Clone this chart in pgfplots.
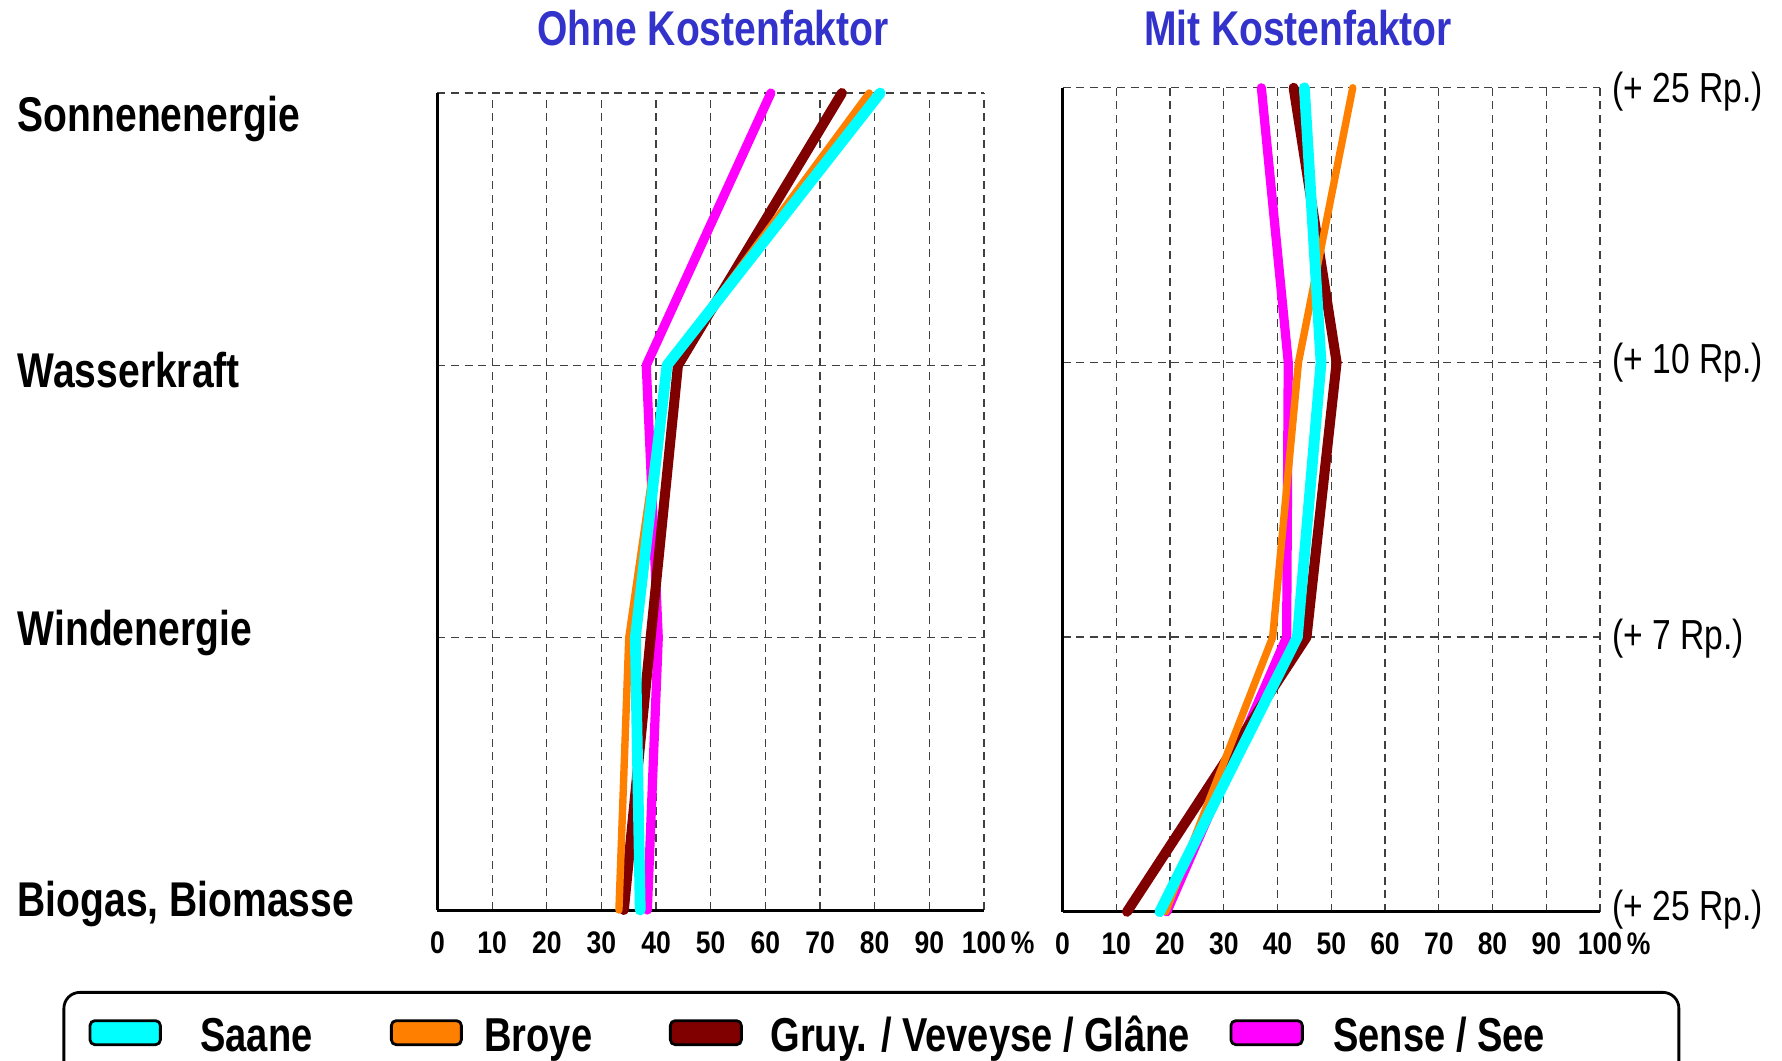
\documentclass[border=0pt]{standalone}
\usepackage{pgfplots}
\pgfplotsset{compat=1.18}
\usepackage{fontspec}
\setmainfont{Liberation Sans}[FakeStretch=0.8]
\newfontfamily\tickfont{Liberation Sans}[FakeStretch=0.85]
\definecolor{ttl}{RGB}{51,51,204}
\definecolor{cyanC}{RGB}{0,255,255}
\definecolor{orangeC}{RGB}{255,128,0}
\definecolor{maroonC}{RGB}{128,0,0}
\definecolor{magC}{RGB}{255,0,255}
\pgfplotsset{
  panel/.style={
    scale only axis, anchor=north west,
    xmin=0,xmax=100,ymin=0,ymax=3,
    axis x line*=bottom, axis y line*=left,
    xtick={0,10,...,100}, ytick={0,1,2,3}, yticklabel=\empty,
    xticklabels={0,10,20,30,40,50,60,70,80,90,{100\rlap{\hspace{1.2pt}\%}}},
    xticklabel style={font=\tickfont\bfseries\fontsize{7.8}{9}\selectfont, yshift=-1.8pt},
    xmajorgrids, ymajorgrids,
    major grid style={dash pattern=on 2pt off 1.4pt, line width=0.3pt, black!75},
    major tick length=0pt,
    axis line style={line width=0.75pt, black},
    clip=false, no markers,
  },
  sCy/.style={color=cyanC, line width=2.7pt, line cap=round, line join=round},
  sOr/.style={color=orangeC, line width=1.85pt, line cap=round, line join=round},
  sMr/.style={color=maroonC, line width=2.5pt, line cap=round, line join=round},
  sMg/.style={color=magC, line width=2.3pt, line cap=round, line join=round},
}
\begin{document}
\begin{tikzpicture}
% ---------- left panel: Ohne Kostenfaktor ----------
\begin{axis}[panel,
  at={(109.375pt,-23.25pt)}, width=136.625pt, height=204.25pt,
  legend columns=4, reverse legend, legend cell align=left,
  legend style={at={(axis description cs:-0.6862,-0.0991)}, anchor=north west,
    draw=black, line width=0.7pt, rounded corners=4pt, fill=white,
    inner xsep=0pt, inner ysep=0pt, column sep=0pt,
    font=\fontsize{11.9}{13}\selectfont\bfseries,
    nodes={inner sep=0pt, text height=6.72pt, text depth=0pt}},
]
\addplot[sMg, legend image code/.code={
   \path[draw=none,fill=none] (0pt,-11.375pt) rectangle (30.6pt,11.375pt);
   \filldraw[draw=black,line width=0.7pt,rounded corners=1.2pt] (5pt,-1.7pt) rectangle (22.85pt,4.3pt);}]
  coordinates {(38.4,0) (40.4,1) (38.2,2) (61.0,3)};
\addlegendentry{\makebox[86.375pt][l]{Sense / See}}
\addplot[sMr, legend image code/.code={
   \path[draw=none,fill=none] (0pt,-11.375pt) rectangle (30pt,11.375pt);
   \filldraw[draw=black,line width=0.7pt,rounded corners=1.2pt] (5pt,-1.7pt) rectangle (22.75pt,4.3pt);}]
  coordinates {(34.1,0) (39.0,1) (44.0,2) (74.0,3)};
\addlegendentry{\makebox[110.15pt][l]{Gruy. / Veveyse / Glâne}}
\addplot[sOr, legend image code/.code={
   \path[draw=none,fill=none] (0pt,-11.375pt) rectangle (28.25pt,11.375pt);
   \filldraw[draw=black,line width=0.7pt,rounded corners=1.2pt] (5pt,-1.7pt) rectangle (22.5pt,4.3pt);}]
  coordinates {(33.2,0) (35.0,1) (42.2,2) (79.0,3)};
\addlegendentry{\makebox[41.5pt][l]{Broye}}
\addplot[sCy, legend image code/.code={
   \path[draw=none,fill=none] (0pt,-11.375pt) rectangle (34.125pt,11.375pt);
   \filldraw[draw=black,line width=0.7pt,rounded corners=1.2pt] (6.525pt,-1.7pt) rectangle (24.125pt,4.3pt);}]
  coordinates {(37.1,0) (36.2,1) (42.0,2) (81.0,3)};
\addlegendentry{\makebox[42.75pt][l]{Saane}}
\end{axis}
% ---------- right panel: Mit Kostenfaktor ----------
\begin{axis}[panel,
  at={(265.625pt,-21.94pt)}, width=134.375pt, height=206pt,
]
\addplot[sMg] coordinates {(19.4,0) (41.7,1) (42.0,2) (37.0,3)};
\addplot[sMr] coordinates {(12.0,0) (45.4,1) (51.0,2) (43.0,3)};
\addplot[sOr] coordinates {(19.2,0) (39.1,1) (43.9,2) (54.0,3)};
\addplot[sCy] coordinates {(18.1,0) (43.7,1) (48.1,2) (45.0,3)};
\begin{scope}[every node/.style={anchor=base west, inner sep=0pt, xshift=2.9pt, font=\fontsize{10.5}{12}\selectfont}]
\node[yshift=-3.76pt] at (axis cs:100,3) {(+ 25 Rp.)};
\node[yshift=-2.8pt] at (axis cs:100,2) {(+ 10 Rp.)};
\node[yshift=-3.2pt] at (axis cs:100,1) {(+ 7 Rp.)};
\node[yshift=-2.1pt] at (axis cs:100,0) {(+ 25 Rp.)};
\end{scope}
\end{axis}
% ---------- titles and category labels ----------
\node[anchor=base, inner sep=0pt, text=ttl, font=\fontsize{12.2}{14}\selectfont\bfseries] at (178.25pt,-11.25pt) {Ohne Kostenfaktor};
\node[anchor=base, inner sep=0pt, text=ttl, font=\fontsize{12.2}{14}\selectfont\bfseries] at (324.5pt,-11.25pt) {Mit Kostenfaktor};
\begin{scope}[every node/.style={anchor=base west, inner sep=0pt, font=\fontsize{12.2}{14}\selectfont\bfseries}]
\node at (4.25pt,-32.9pt) {Sonnenenergie};
\node at (4.25pt,-96.9pt) {Wasserkraft};
\node at (4.25pt,-161.25pt) {Windenergie};
\node at (4.25pt,-229pt) {Biogas, Biomasse};
\end{scope}
\pgfresetboundingbox
\useasboundingbox (0pt,0pt) rectangle (445.5pt,-265.25pt);
\end{tikzpicture}
\end{document}
